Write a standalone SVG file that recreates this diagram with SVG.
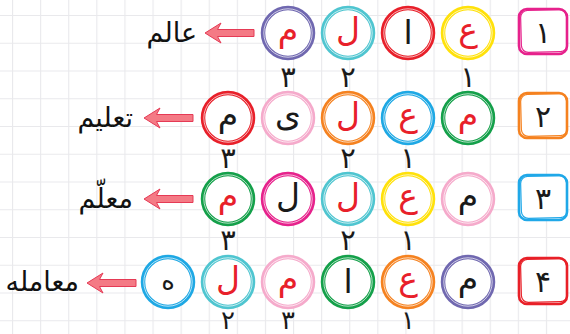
<svg xmlns="http://www.w3.org/2000/svg" width="570" height="334" viewBox="0 0 570 334">
<style>
.w{font-family:"DejaVu Sans",sans-serif;font-size:27px;fill:#111;text-anchor:end;}
.l{font-family:"DejaVu Sans",sans-serif;font-size:33px;text-anchor:middle;}
.r{fill:#e8202a;}
.k{fill:#1a1a1a;}
.n{font-family:"DejaVu Sans",sans-serif;font-size:29px;fill:#1a1a1a;text-anchor:middle;}
.b{font-family:"DejaVu Sans",sans-serif;font-size:30px;fill:#1a1a1a;text-anchor:middle;}
.c{fill:#fff;stroke-width:4.5;}
.ci{fill:none;stroke:#fff;stroke-width:0.8;opacity:0.85;}
.arr{fill:#f47a85;stroke:#e53a55;stroke-width:1;}
.bx{fill:#fff;stroke-width:2.6;}
.bx2{fill:none;stroke-width:1.2;}
</style>
<defs>
<pattern id="grid" x="12" y="15" width="28.1" height="27.75" patternUnits="userSpaceOnUse">
<rect x="0" y="0" width="28.1" height="27.75" fill="#fff"/>
<path d="M0,0 H28.1 M0,0 V27.75" stroke="#e9e9ec" stroke-width="2.2" fill="none"/>
</pattern>
<path id="ar" d="M0,0 L16,-10 L12.5,-3.5 L49,-3.5 L49,3.5 L12.5,3.5 L16,10 Z"/>
</defs>
<rect width="570" height="334" fill="url(#grid)"/>

<g id="connectors">
<use href="#ar" class="arr" x="205" y="33"/>
<use href="#ar" class="arr" x="144" y="118"/>
<use href="#ar" class="arr" x="144" y="199"/>
<use href="#ar" class="arr" x="87" y="283"/>
</g>

<!-- Row 1 -->
<g id="box1"><rect class="bx" x="519" y="9" width="48" height="45" rx="8" stroke="#e6228c"/><rect class="bx2" x="521" y="10" width="46" height="42" rx="7" stroke="#e6228c" transform="rotate(-1.5 544 31)"/><text class="b" x="543" y="43">۱</text></g>
<g id="r1c1"><circle class="c" cx="468" cy="33" r="25" stroke="#ffe10a"/><circle class="ci" cx="468" cy="33" r="24.2"/><text class="l r" x="468" y="41">ع</text></g>
<g id="r1c2"><circle class="c" cx="408" cy="33" r="25" stroke="#e8202a"/><circle class="ci" cx="408" cy="33" r="24.2"/><text class="l k" x="408" y="44">ا</text></g>
<g id="r1c3"><circle class="c" cx="348" cy="33" r="25" stroke="#4fc5d0"/><circle class="ci" cx="348" cy="33" r="24.2"/><text class="l r" x="348" y="41">ل</text></g>
<g id="r1c4"><circle class="c" cx="288" cy="33" r="25" stroke="#7068b0"/><circle class="ci" cx="288" cy="33" r="24.2"/><text class="l r" x="288" y="41">م</text></g>
<g id="r1n"><text class="n" x="468" y="87">۱</text><text class="n" x="348" y="87">۲</text><text class="n" x="288" y="87">۳</text></g>
<g id="w1"><text class="w" x="197" y="42">عالم</text></g>

<!-- Row 2 -->
<g id="box2"><rect class="bx" x="519" y="93" width="48" height="45" rx="8" stroke="#f58220"/><rect class="bx2" x="521" y="94" width="46" height="42" rx="7" stroke="#f58220" transform="rotate(-1.5 544 115)"/><text class="b" x="543" y="127">۲</text></g>
<g id="r2c1"><circle class="c" cx="468" cy="118" r="25" stroke="#14a04a"/><circle class="ci" cx="468" cy="118" r="24.2"/><text class="l r" x="468" y="126">م</text></g>
<g id="r2c2"><circle class="c" cx="408" cy="118" r="25" stroke="#1ea8e4"/><circle class="ci" cx="408" cy="118" r="24.2"/><text class="l r" x="408" y="126">ع</text></g>
<g id="r2c3"><circle class="c" cx="348" cy="118" r="25" stroke="#f58220"/><circle class="ci" cx="348" cy="118" r="24.2"/><text class="l r" x="348" y="126">ل</text></g>
<g id="r2c4"><circle class="c" cx="288" cy="118" r="25" stroke="#f5aacb"/><circle class="ci" cx="288" cy="118" r="24.2"/><text class="l k" x="288" y="126">ی</text></g>
<g id="r2c5"><circle class="c" cx="228" cy="118" r="25" stroke="#e8202a"/><circle class="ci" cx="228" cy="118" r="24.2"/><text class="l k" x="228" y="126">م</text></g>
<g id="r2n"><text class="n" x="408" y="168">۱</text><text class="n" x="348" y="168">۲</text><text class="n" x="228" y="168">۳</text></g>
<g id="w2"><text class="w" x="133" y="127">تعلیم</text></g>

<!-- Row 3 -->
<g id="box3"><rect class="bx" x="519" y="175" width="48" height="45" rx="8" stroke="#20a8e8"/><rect class="bx2" x="521" y="176" width="46" height="42" rx="7" stroke="#20a8e8" transform="rotate(-1.5 544 197)"/><text class="b" x="543" y="209">۳</text></g>
<g id="r3c1"><circle class="c" cx="468" cy="199" r="25" stroke="#f5aacb"/><circle class="ci" cx="468" cy="199" r="24.2"/><text class="l k" x="468" y="207">م</text></g>
<g id="r3c2"><circle class="c" cx="408" cy="199" r="25" stroke="#ffe10a"/><circle class="ci" cx="408" cy="199" r="24.2"/><text class="l r" x="408" y="207">ع</text></g>
<g id="r3c3"><circle class="c" cx="348" cy="199" r="25" stroke="#4fc5d0"/><circle class="ci" cx="348" cy="199" r="24.2"/><text class="l r" x="348" y="207">ل</text></g>
<g id="r3c4"><circle class="c" cx="288" cy="199" r="25" stroke="#e6228c"/><circle class="ci" cx="288" cy="199" r="24.2"/><text class="l k" x="288" y="207">ل</text></g>
<g id="r3c5"><circle class="c" cx="228" cy="199" r="25" stroke="#14a04a"/><circle class="ci" cx="228" cy="199" r="24.2"/><text class="l r" x="228" y="207">م</text></g>
<g id="r3n"><text class="n" x="408" y="250">۱</text><text class="n" x="348" y="250">۲</text><text class="n" x="228" y="250">۳</text></g>
<g id="w3"><text class="w" x="133" y="208">معلّم</text></g>

<!-- Row 4 -->
<g id="box4"><rect class="bx" x="519" y="258" width="48" height="46" rx="8" stroke="#e82028"/><rect class="bx2" x="521" y="259" width="46" height="43" rx="7" stroke="#e82028" transform="rotate(-1.5 544 281)"/><text class="b" x="543" y="292">۴</text></g>
<g id="r4c1"><circle class="c" cx="468" cy="282" r="25" stroke="#7068b0"/><circle class="ci" cx="468" cy="282" r="24.2"/><text class="l k" x="468" y="290">م</text></g>
<g id="r4c2"><circle class="c" cx="408" cy="282" r="25" stroke="#f58220"/><circle class="ci" cx="408" cy="282" r="24.2"/><text class="l r" x="408" y="290">ع</text></g>
<g id="r4c3"><circle class="c" cx="348" cy="282" r="25" stroke="#14a04a"/><circle class="ci" cx="348" cy="282" r="24.2"/><text class="l k" x="348" y="293">ا</text></g>
<g id="r4c4"><circle class="c" cx="288" cy="282" r="25" stroke="#f5aacb"/><circle class="ci" cx="288" cy="282" r="24.2"/><text class="l r" x="288" y="290">م</text></g>
<g id="r4c5"><circle class="c" cx="228" cy="282" r="25" stroke="#4fc5d0"/><circle class="ci" cx="228" cy="282" r="24.2"/><text class="l r" x="228" y="290">ل</text></g>
<g id="r4c6"><circle class="c" cx="168" cy="282" r="25" stroke="#1ea8e4"/><circle class="ci" cx="168" cy="282" r="24.2"/><text class="l k" x="168" y="290" style="font-size:26px">ه</text></g>
<g id="r4n"><text class="n" x="408" y="329" style="font-size:26px">۱</text><text class="n" x="288" y="329" style="font-size:26px">۳</text><text class="n" x="228" y="329" style="font-size:26px">۲</text></g>
<g id="w4"><text class="w" x="79" y="291">معامله</text></g>
</svg>
